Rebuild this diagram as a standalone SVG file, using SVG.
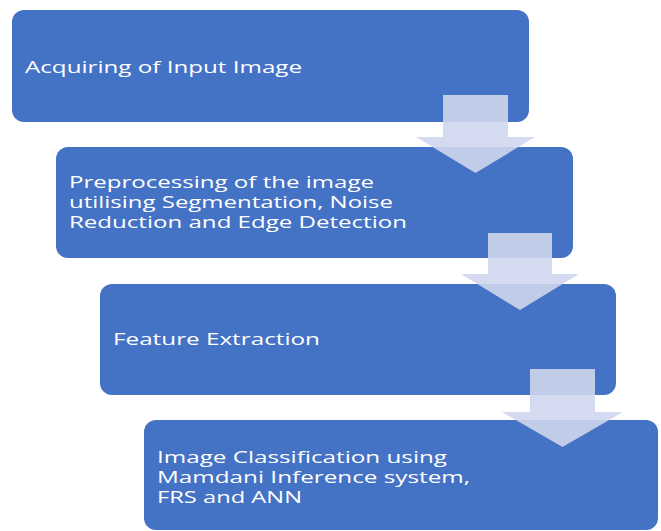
<svg xmlns="http://www.w3.org/2000/svg" width="661" height="531" viewBox="0 0 661 531">
  <style>
    .box { fill: #4472C4; }
    .label { fill: #ffffff; font-family: "Open Sans", "Noto Sans", "DejaVu Sans", sans-serif; font-size: 17px; }
    .arrow { fill: #CFD6ED; fill-opacity: 0.9; }
  </style>
  <rect width="661" height="531" fill="#ffffff"/>

  <!-- process steps -->
  <g id="step-acquire">
    <rect class="box" x="12" y="10" width="517" height="112" rx="12" ry="12"/>
    <text class="label" x="25" y="73" font-size="18" textLength="277" lengthAdjust="spacingAndGlyphs">Acquiring of Input Image</text>
  </g>
  <g id="step-preprocess">
    <rect class="box" x="56" y="147" width="517" height="111" rx="12" ry="12"/>
    <text class="label" x="69" y="188" textLength="305" lengthAdjust="spacingAndGlyphs">Preprocessing of the image</text>
    <text class="label" x="69" y="208" textLength="324" lengthAdjust="spacingAndGlyphs">utilising Segmentation, Noise</text>
    <text class="label" x="69" y="228" textLength="338" lengthAdjust="spacingAndGlyphs">Reduction and Edge Detection</text>
  </g>
  <g id="step-features">
    <rect class="box" x="100" y="284" width="516" height="111" rx="12" ry="12"/>
    <text class="label" x="113" y="345" textLength="207" lengthAdjust="spacingAndGlyphs">Feature Extraction</text>
  </g>
  <g id="step-classify">
    <rect class="box" x="144" y="420" width="514" height="110" rx="12" ry="12"/>
    <text class="label" x="157" y="463" textLength="290" lengthAdjust="spacingAndGlyphs">Image Classification using</text>
    <text class="label" x="157" y="483" textLength="313" lengthAdjust="spacingAndGlyphs">Mamdani Inference system,</text>
    <text class="label" x="157" y="503" textLength="145" lengthAdjust="spacingAndGlyphs">FRS and ANN</text>
  </g>

  <!-- down arrows between steps -->
  <g id="connectors">
    <polygon class="arrow" points="443,95 508,95 508,137 535,137 475.5,173 416,137 443,137"/>
    <polygon class="arrow" points="488,233 552,233 552,274 579,274 520,310 461,274 488,274"/>
    <polygon class="arrow" points="530,369 595,369 595,412 623,412 562.5,447 502,412 530,412"/>
  </g>
</svg>
